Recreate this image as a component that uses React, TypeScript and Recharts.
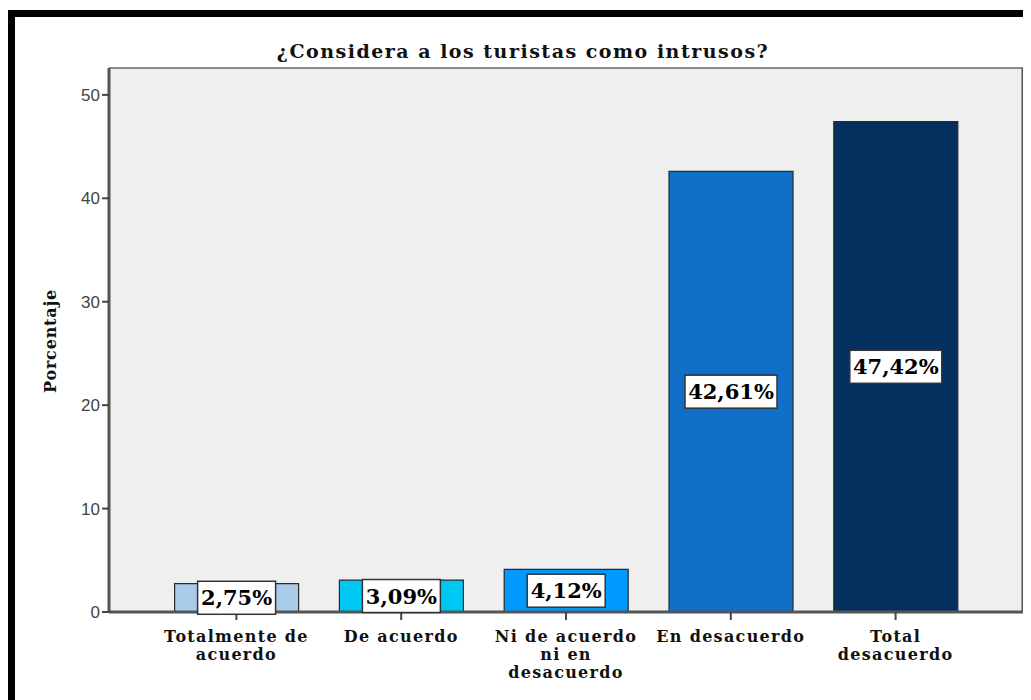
import React from "react";
import {
  Bar,
  BarChart,
  CartesianGrid,
  Cell,
  LabelList,
  XAxis,
  YAxis,
} from "recharts";

const categories = [
  "Totalmente de\nacuerdo",
  "De acuerdo",
  "Ni de acuerdo\nni en\ndesacuerdo",
  "En desacuerdo",
  "Total\ndesacuerdo",
];
const percentages = [2.75, 3.09, 4.12, 42.61, 47.42];
const barColors = ["#a9cbea", "#00c8f5", "#0099ff", "#106fc8", "#04305f"];
const yTicks = [0, 10, 20, 30, 40, 50];
const yMax = 52.6;

const data = categories.map((name, i) => ({ name, value: percentages[i] }));

const serif = "'DejaVu Serif', serif";

function CategoryTick(props: any) {
  const { x, y, payload } = props;
  const lines = String(payload.value).split("\n");
  return (
    <text
      x={x}
      y={y + 20}
      textAnchor="middle"
      fontFamily={serif}
      fontWeight="bold"
      fontSize={16}
      letterSpacing={1.3}
      fill="#111"
    >
      {lines.map((line, i) => (
        <tspan key={i} x={x} dy={i === 0 ? 0 : 18}>
          {line}
        </tspan>
      ))}
    </text>
  );
}

function ValueLabel(props: any) {
  const { x, y, width, height, value } = props;
  const text = Number(value).toFixed(2).replace(".", ",") + "%";
  const cx = x + width / 2;
  const cy = y + height / 2;
  const w = text.length * 14 + 8;
  const h = 33;
  return (
    <g>
      <rect
        x={cx - w / 2}
        y={cy - h / 2}
        width={w}
        height={h}
        fill="#ffffff"
        stroke="#333"
        strokeWidth={1.5}
      />
      <text
        x={cx}
        y={cy + 7.5}
        textAnchor="middle"
        fontFamily={serif}
        fontWeight="bold"
        fontSize={21}
        fill="#000"
      >
        {text}
      </text>
    </g>
  );
}

export default function App() {
  return (
    <div
      style={{
        position: "relative",
        marginTop: 2,
        width: 1016,
        height: 683,
        borderTop: "7px solid #000",
        borderLeft: "7px solid #000",
        background: "#fff",
      }}
    >
      <div
        style={{
          position: "absolute",
          top: 24,
          left: 0,
          width: 1016,
          textAlign: "center",
          fontFamily: serif,
          fontWeight: "bold",
          fontSize: 19,
          letterSpacing: 1.5,
          lineHeight: "20px",
          color: "#111",
        }}
      >
        ¿Considera a los turistas como intrusos?
      </div>
      <div
        style={{
          position: "absolute",
          left: 35,
          top: 324,
          transform: "translate(-50%, -50%) rotate(-90deg)",
          fontFamily: serif,
          fontWeight: "bold",
          fontSize: 16,
          letterSpacing: 0.8,
          whiteSpace: "nowrap",
          color: "#111",
        }}
      >
        Porcentaje
      </div>
      <BarChart
        width={1016}
        height={683}
        data={data}
        margin={{ top: 51, right: 8, bottom: 8, left: 34 }}
        barCategoryGap="12.5%"
      >
        <CartesianGrid
          fill="#efefef"
          fillOpacity={1}
          horizontal={false}
          vertical={false}
        />
        <CartesianGrid
          horizontal
          vertical={false}
          stroke="#666"
          strokeWidth={1.5}
          horizontalCoordinatesGenerator={({ offset }: any) => [offset.top]}
        />
        <CartesianGrid
          horizontal={false}
          vertical
          stroke="#555"
          strokeWidth={3}
          verticalCoordinatesGenerator={({ offset }: any) => [
            offset.left + offset.width,
          ]}
        />
        <XAxis
          dataKey="name"
          interval={0}
          padding={{ left: 45, right: 45 }}
          height={80}
          tickSize={8}
          tickMargin={2}
          tick={<CategoryTick />}
          axisLine={{ stroke: "#555", strokeWidth: 3 }}
          tickLine={{ stroke: "#444", strokeWidth: 2 }}
        />
        <YAxis
          domain={[0, yMax]}
          ticks={yTicks}
          width={60}
          tickSize={7}
          tickMargin={2}
          tick={{
            fontFamily: "'Liberation Sans', Arial, sans-serif",
            fontSize: 17,
            fill: "#444",
          }}
          axisLine={{ stroke: "#555", strokeWidth: 3 }}
          tickLine={{ stroke: "#444", strokeWidth: 2 }}
        />
        <Bar
          dataKey="value"
          stroke="#2a2a2a"
          strokeWidth={1.2}
          isAnimationActive={false}
        >
          {data.map((d, i) => (
            <Cell key={d.name} fill={barColors[i]} />
          ))}
          <LabelList dataKey="value" content={<ValueLabel />} />
        </Bar>
      </BarChart>
    </div>
  );
}
